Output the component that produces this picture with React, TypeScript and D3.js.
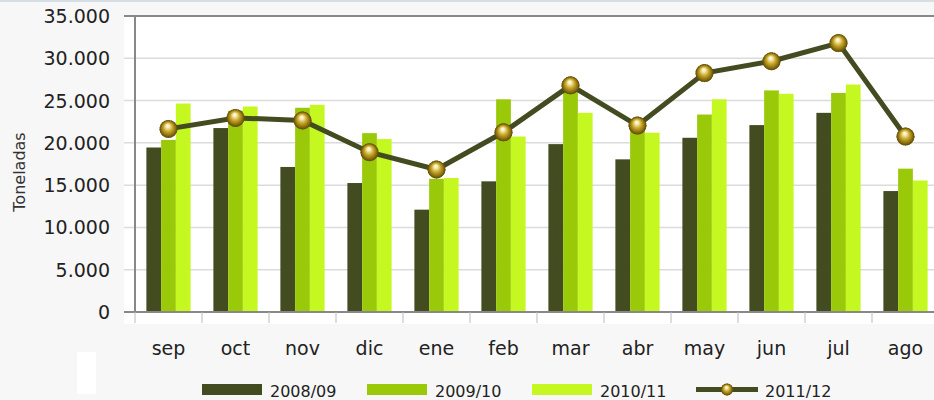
import React from "react";
import * as d3 from "d3";

const months = ["sep", "oct", "nov", "dic", "ene", "feb", "mar", "abr", "may", "jun", "jul", "ago"];
const s0809 = [19450, 21750, 17150, 15250, 12100, 15450, 19850, 18050, 20600, 22100, 23550, 14300];
const s0910 = [20350, 23800, 24150, 21150, 15750, 25150, 26300, 21700, 23350, 26200, 25900, 16950];
const s1011 = [24650, 24300, 24500, 20450, 15850, 20750, 23550, 21200, 25150, 25800, 26900, 15550];
const s1112 = [21650, 22950, 22650, 18900, 16850, 21250, 26800, 22050, 28250, 29650, 31800, 20750];
const barSeries = ["2008/09", "2009/10", "2010/11"];
const lineSeries = "2011/12";
const yTicks = [0, 5000, 10000, 15000, 20000, 25000, 30000, 35000];

const colors = ["#434b20", "#9ac90a", "#c5f820"];
const lineColor = "#434b20";
const font = "'DejaVu Sans', sans-serif";

export default function App() {
    const width = 934;
    const height = 400;
    const plotLeft = 135;
    const plotRight = 939;
    const plotTop = 16;
    const plotBottom = 312;

    const x = d3.scaleBand().domain(months).range([plotLeft, plotRight]).paddingInner(0).paddingOuter(0);
    const y = d3.scaleLinear().domain([0, 35000]).range([plotBottom, plotTop]);
    const groupW = x.bandwidth() * 0.66;
    const inner = d3.scaleBand().domain(barSeries).range([0, groupW]);
    const values = [s0809, s0910, s1011];

    const line = d3
        .line<number>()
        .x((d, i) => x(months[i])! + x.bandwidth() / 2)
        .y((d) => y(d));

    const fmt = (v: number) => d3.format(",")(v).replace(/,/g, ".");

    const Ball = ({ cx, cy, r }: { cx: number; cy: number; r: number }) => (
        <g>
            <circle cx={cx} cy={cy} r={r} fill="url(#ball)" />
            <circle cx={cx} cy={cy} r={r - 0.5} fill="none" stroke="#6a5508" strokeWidth={1} strokeDasharray="1.5 1" />
        </g>
    );

    return (
        <svg width={width} height={height} style={{ position: "absolute", left: 0, top: 0, background: "#f7f7f7" }}>
            <defs>
                <radialGradient id="ball" cx="0.5" cy="0.5" r="0.5" fx="0.45" fy="0.3">
                    <stop offset="0" stopColor="#ffffff" />
                    <stop offset="0.2" stopColor="#f6eab0" />
                    <stop offset="0.5" stopColor="#c9a92a" />
                    <stop offset="0.8" stopColor="#8c7010" />
                    <stop offset="1" stopColor="#5e4a06" />
                </radialGradient>
            </defs>
            <rect x={0} y={0} width={width} height={2} fill="#d6dee6" />
            <rect x={124} y={plotTop} width={width - 124} height={324 - plotTop} fill="#ffffff" />
            {/* gridlines */}
            {yTicks.map((t) => (
                <line key={t} x1={124} x2={width} y1={y(t)} y2={y(t)} stroke="#dcdcdc" strokeWidth={1.5} />
            ))}
            {/* bars */}
            {values.map((vals, si) =>
                vals.map((v, i) => (
                    <rect
                        key={si + "-" + i}
                        x={x(months[i])! + (x.bandwidth() - groupW) / 2 + inner(barSeries[si])!}
                        y={y(v)}
                        width={inner.bandwidth()}
                        height={y(0) - y(v)}
                        fill={colors[si]}
                    />
                ))
            )}
            {/* axes */}
            <line x1={124} x2={width} y1={plotTop} y2={plotTop} stroke="#888888" strokeWidth={2} />
            <line x1={plotLeft} x2={plotLeft} y1={plotTop} y2={plotBottom} stroke="#888888" strokeWidth={2} />
            <line x1={124} x2={width} y1={plotBottom} y2={plotBottom} stroke="#888888" strokeWidth={2} />
            {months.map((m) => (
                <line key={m} x1={x(m)!} x2={x(m)!} y1={plotBottom} y2={323} stroke="#bbbbbb" strokeWidth={1} />
            ))}
            {/* y tick labels */}
            {yTicks.map((t) => (
                <text key={t} x={110} y={y(t) + 7} textAnchor="end" fontFamily={font} fontSize={19} fill="#222">
                    {fmt(t)}
                </text>
            ))}
            {/* x labels */}
            {months.map((m) => (
                <text key={m} x={x(m)! + x.bandwidth() / 2} y={355} textAnchor="middle" fontFamily={font} fontSize={19} fill="#222">
                    {m}
                </text>
            ))}
            <text transform="translate(25,172) rotate(-90)" textAnchor="middle" fontFamily={font} fontSize={16} fill="#333">
                Toneladas
            </text>
            {/* line series */}
            <path d={line(s1112)!} fill="none" stroke={lineColor} strokeWidth={5} />
            {s1112.map((v, i) => (
                <Ball key={i} cx={x(months[i])! + x.bandwidth() / 2} cy={y(v)} r={9} />
            ))}
            {/* odd white block */}
            <rect x={77} y={352} width={19} height={42} fill="#ffffff" />
            {/* legend */}
            {barSeries.map((s, i) => {
                const lx = [202, 367, 532][i];
                return (
                    <g key={s}>
                        <rect x={lx} y={384} width={60} height={11} fill={colors[i]} />
                        <text x={lx + 68} y={396.5} fontFamily={font} fontSize={16} fill="#222">
                            {s}
                        </text>
                    </g>
                );
            })}
            <line x1={696} x2={758} y1={389.5} y2={389.5} stroke={lineColor} strokeWidth={5} />
            <Ball cx={727} cy={389.5} r={6} />
            <text x={765} y={396.5} fontFamily={font} fontSize={16} fill="#222">
                {lineSeries}
            </text>
        </svg>
    );
}
